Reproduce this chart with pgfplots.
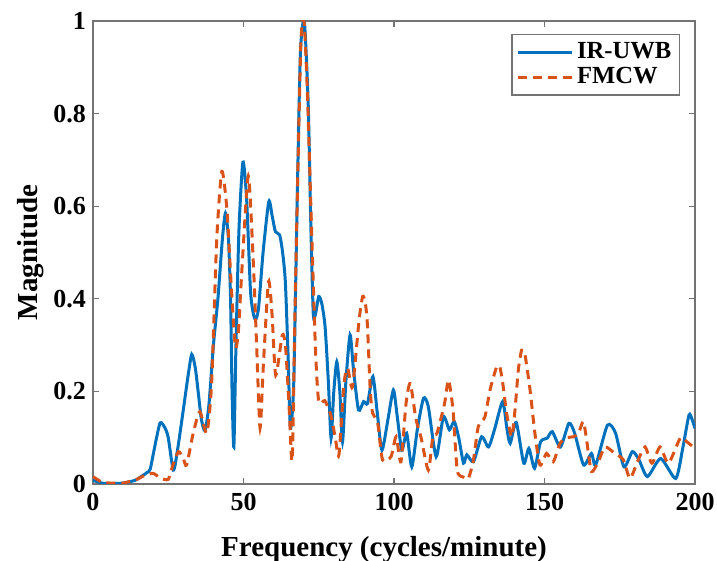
\documentclass[border=0pt]{standalone}
\usepackage{pgfplots}
\pgfplotsset{compat=1.18}
\usepackage{fontspec}
\setmainfont{Liberation Serif}
\definecolor{mblue}{HTML}{0072BD}
\definecolor{morange}{HTML}{D95319}
\definecolor{axgray}{gray}{0.45}

\pgfplotstableread{
f m
0 0.008
3 0.002
6 0.001
10 0.002
14 0.008
16 0.016
18 0.025
19 0.032
20.5 0.08
22.3 0.132
24 0.12
25 0.1
26.7 0.03
28 0.07
30 0.16
31.5 0.23
32.8 0.28
34 0.25
35 0.196
36 0.14
37.2 0.115
38.5 0.17
40 0.3
41.5 0.4
43 0.53
44 0.585
45 0.53
45.7 0.4
46.2 0.2
46.8 0.08
47.5 0.3
48.5 0.55
49.8 0.695
51 0.62
52.3 0.42
53.2 0.37
54 0.355
55 0.38
56.5 0.5
58.4 0.61
59.5 0.58
60.6 0.545
62 0.538
63 0.5
63.9 0.437
64.8 0.28
65.6 0.12
66.7 0.22
67.8 0.6
68.9 0.93
70.2 1.0
71.5 0.82
72.4 0.55
73.2 0.365
74 0.37
75 0.405
76 0.39
77.1 0.34
78.2 0.22
79.1 0.099
80 0.2
81 0.264
82 0.2
82.9 0.091
84 0.22
85.4 0.322
86.5 0.25
88.2 0.16
89.9 0.178
91.2 0.174
93 0.232
94.5 0.15
96 0.073
98 0.14
99.8 0.203
101 0.15
102.6 0.073
104.2 0.11
105.9 0.037
107.8 0.12
109.8 0.185
111.4 0.167
114 0.059
116.4 0.145
118.4 0.117
120 0.135
121.5 0.1
123.1 0.045
124.2 0.063
126.4 0.048
129.1 0.102
131.4 0.08
133.5 0.12
136.1 0.178
137.5 0.12
138.6 0.088
140.6 0.133
143.1 0.045
144.8 0.077
146.7 0.034
148.7 0.091
150.9 0.099
152.6 0.113
155.3 0.08
158.1 0.131
160 0.11
163 0.041
165.6 0.066
167 0.041
170.9 0.127
173.6 0.11
176.4 0.037
179.2 0.07
181.4 0.052
184.2 0.016
188.6 0.055
193.6 0.012
196 0.08
198 0.149
199 0.14
200 0.12
}\uwb

\pgfplotstableread{
f m
0 0.016
3 0.004
6 0.002
10 0.002
14.5 0.01
17 0.018
20 0.023
22.3 0.013
25 0.01
26.5 0.04
28.4 0.07
30 0.055
31.1 0.041
33.3 0.11
35.5 0.156
37.8 0.11
39.4 0.217
41.1 0.527
42.8 0.675
44.5 0.592
46 0.42
47.3 0.295
48.3 0.33
49.5 0.466
51.6 0.665
53.3 0.473
54.4 0.293
55.5 0.121
56.6 0.257
58.3 0.437
59.5 0.365
60.7 0.235
62.9 0.322
64 0.294
65.2 0.16
66.2 0.055
67.3 0.437
69 0.94
70.1 1.0
71.2 0.85
72.3 0.617
73.9 0.293
75 0.178
77 0.18
79 0.149
80.5 0.1
81.7 0.063
83.4 0.217
84.6 0.25
86.2 0.21
88.4 0.354
89.6 0.405
90.5 0.39
91.2 0.34
92.1 0.203
92.9 0.153
94.6 0.131
96.2 0.052
99 0.059
100.7 0.102
102.3 0.048
104 0.174
105.4 0.217
107.3 0.14
109 0.1
111.4 0.03
112.9 0.102
114.3 0.11
116.8 0.174
118.1 0.225
119.6 0.16
121 0.03
123 0.015
124.7 0.012
126.4 0.052
128 0.124
130.2 0.145
131.9 0.203
134.1 0.253
135.2 0.252
136.3 0.21
137.4 0.153
139.1 0.102
140.2 0.16
141.3 0.246
142.4 0.289
143.5 0.28
145.2 0.203
146.8 0.11
148.5 0.041
150.7 0.066
152.9 0.048
155.2 0.088
157.5 0.1
159.6 0.102
161.3 0.11
162.9 0.135
164 0.095
165.6 0.027
168 0.05
170.1 0.08
173.4 0.066
176.2 0.052
178.4 0.012
181 0.05
183.4 0.08
185.7 0.045
188.4 0.08
191.2 0.045
195.1 0.099
197.3 0.091
200 0.077
}\fmcw

\begin{document}
\begin{tikzpicture}
\path[use as bounding box] (-46.5pt,-38.5pt) rectangle (312pt,242pt);
\begin{axis}[
    at={(0,0)}, anchor=south west,
    scale only axis,
    width=301pt, height=231.5pt,
    xmin=0, xmax=200, ymin=0, ymax=1,
    xtick={0,50,...,200},
    ytick={0,0.2,...,1},
    tick align=inside,
    major tick length=3pt,
    axis line style={axgray, line width=0.6pt},
    tick style={axgray, line width=0.6pt},
    every tick label/.append style={font=\fontsize{13}{15}\selectfont\bfseries},
    xticklabel style={yshift=-1pt},
    /pgf/number format/assume math mode=true,
    xlabel={\fontsize{14.5}{17}\selectfont\bfseries Frequency (cycles/minute)},
    ylabel={\fontsize{14.5}{17}\selectfont\bfseries Magnitude},
    xlabel style={yshift=-6pt, xshift=-5pt},
    ylabel style={yshift=-2pt},
    legend style={at={(1,1)}, anchor=north east, xshift=-7.5pt, yshift=-6.5pt,
        draw=axgray, line width=0.6pt, font=\fontsize{12.3}{14}\selectfont\bfseries,
        inner xsep=2pt, inner ysep=2pt, row sep=-1pt},
    legend cell align=left,
    legend image code/.code={\draw[#1] (0pt,0pt) -- (27pt,0pt);},
]
\addplot[mblue, line width=1.5pt, smooth, tension=0.4] table[x=f, y=m] {\uwb};
\addlegendentry{IR-UWB}
\addplot[morange, line width=1.5pt, dash pattern=on 4.5pt off 3pt, smooth, tension=0.4] table[x=f, y=m] {\fmcw};
\addlegendentry{FMCW}
\end{axis}
\end{tikzpicture}
\end{document}
